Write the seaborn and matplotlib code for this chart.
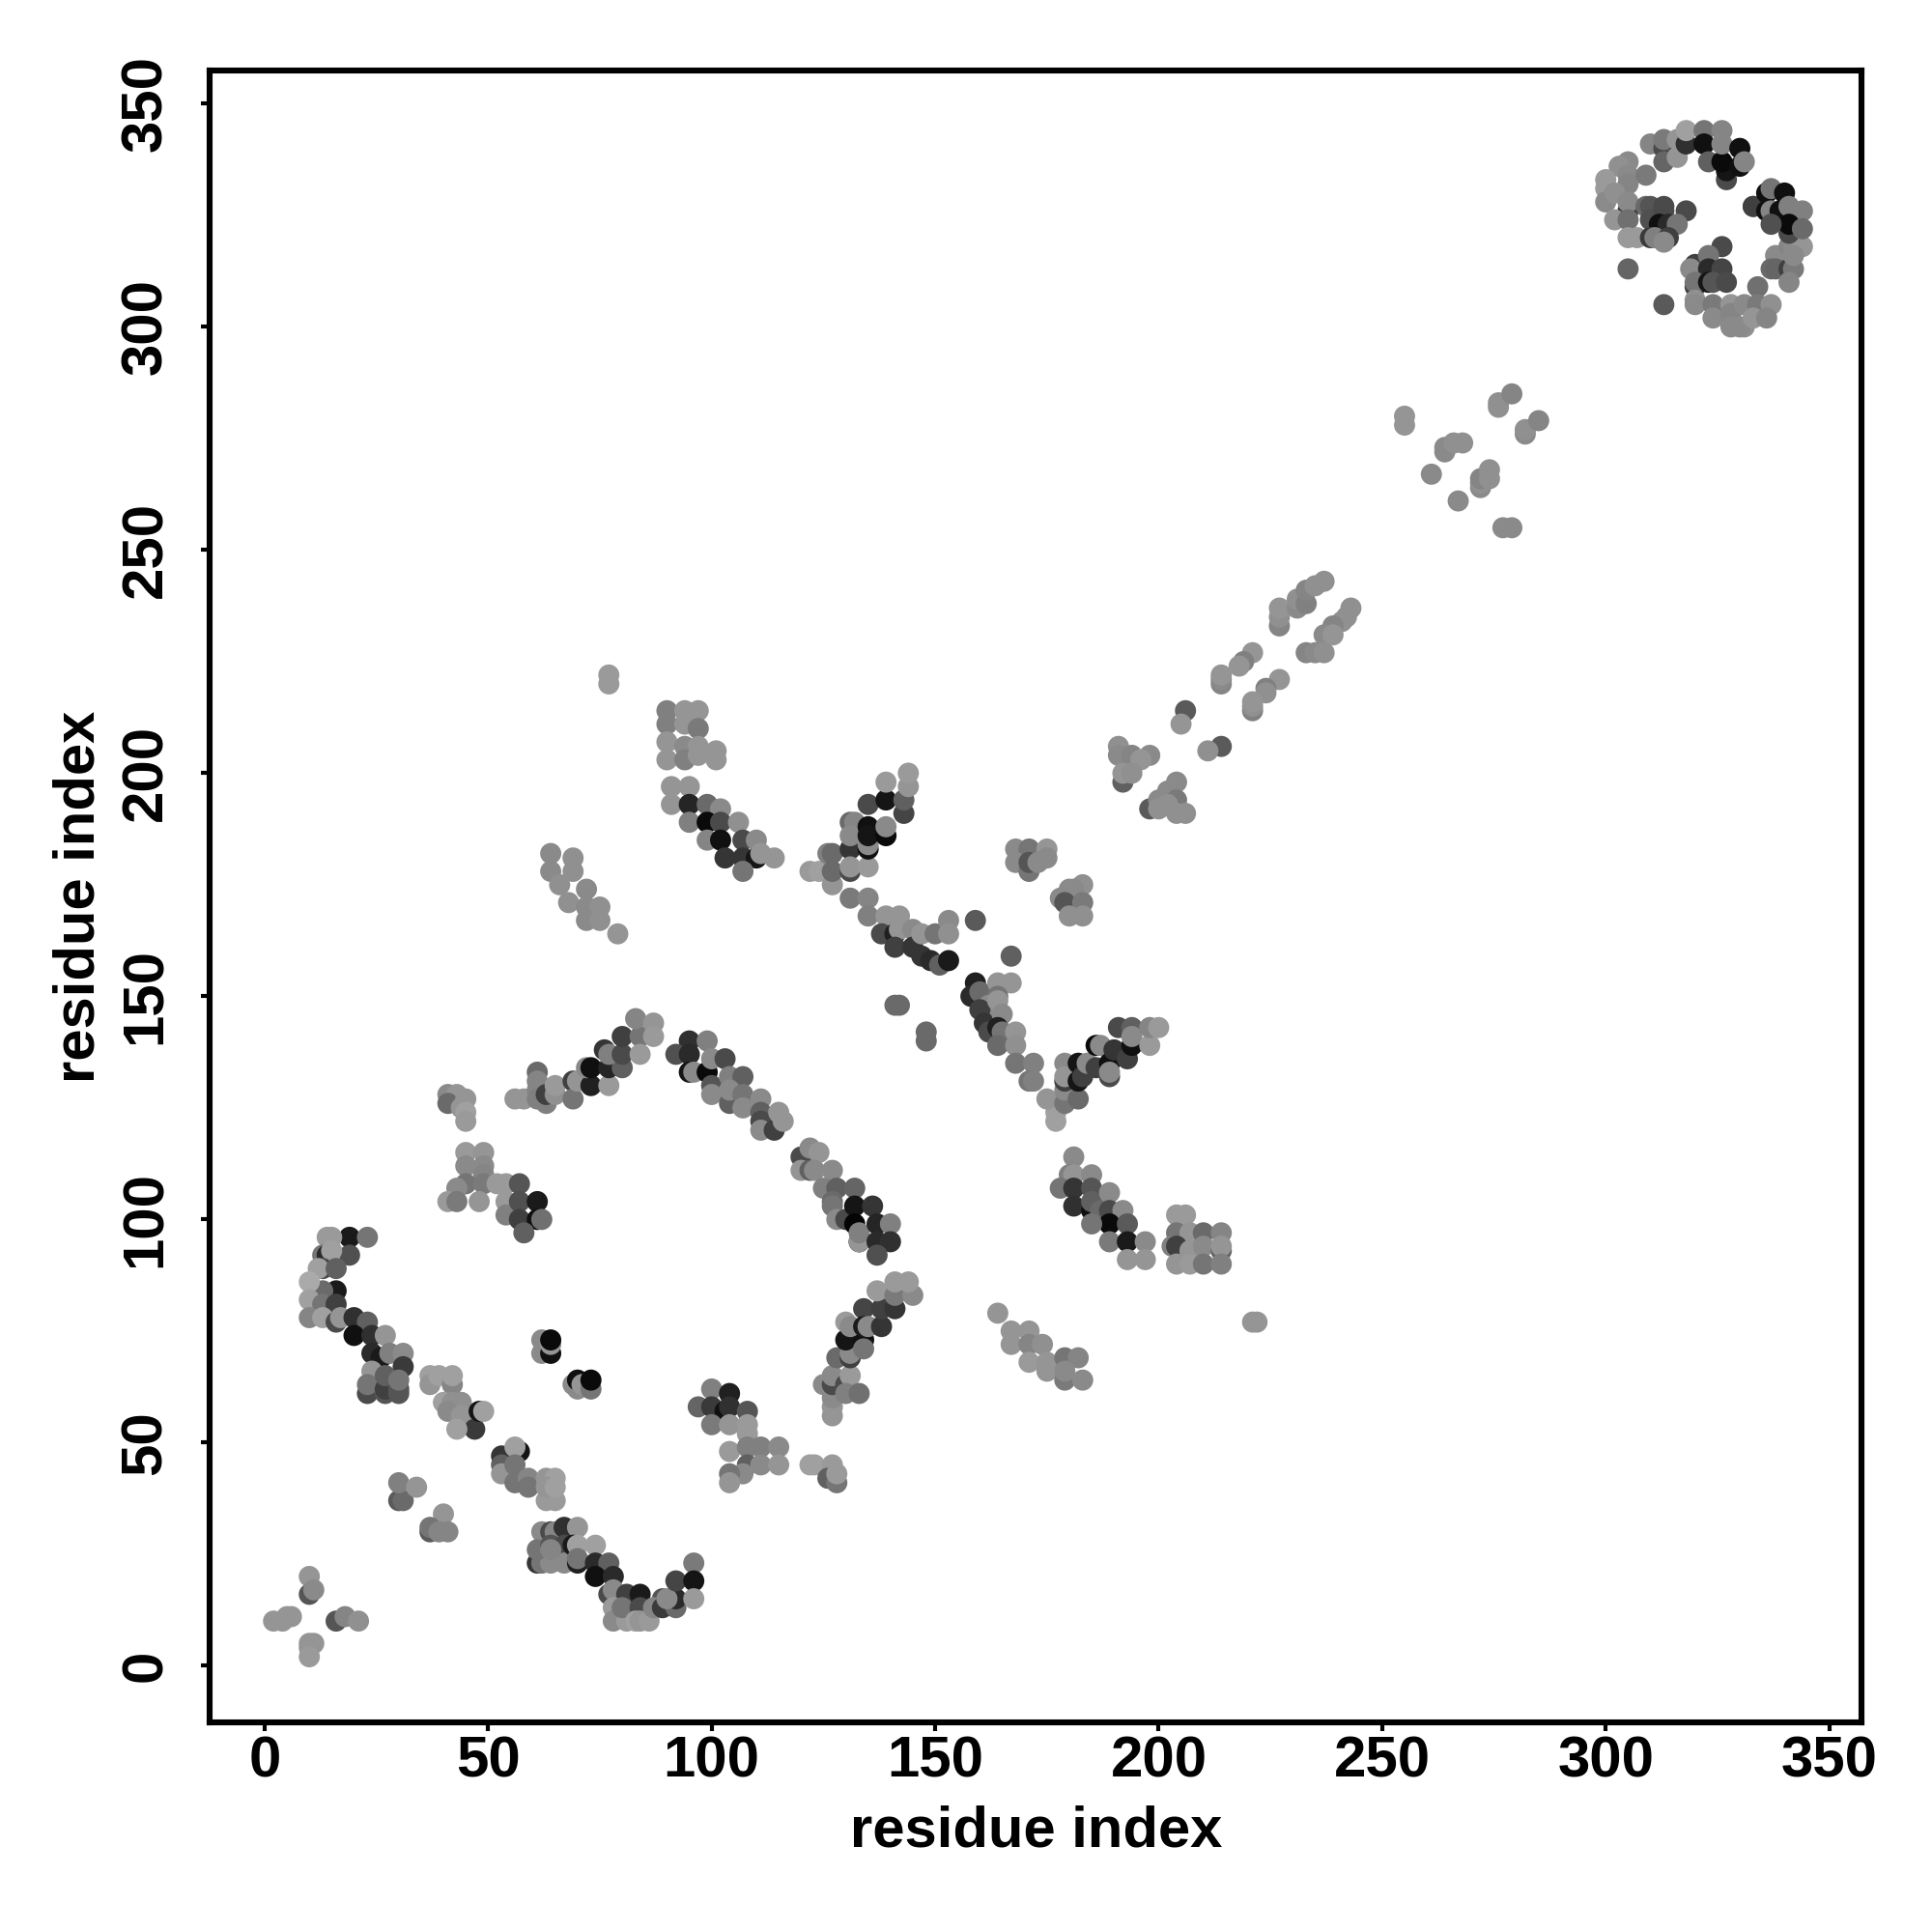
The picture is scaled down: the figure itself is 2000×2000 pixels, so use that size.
import matplotlib
matplotlib.use("Agg")
import matplotlib.pyplot as plt
import pandas as pd
import seaborn as sns

# contacts: (residue x, residue y, grey level 0-255)
cross = [(2,10,140),(4,10,140),(5,11,140),(6,11,140),(10,20,140),(10,16,80),(11,17,130),
         (16,10,80),(18,11,125),(21,10,135),(10,5,140),(11,5,140),(10,4,140),(10,2,145)]
arc_left = [(19,96,25),(23,96,110),(15,96,145),(14,96,145),(19,92,75),(13,92,110),(14,92,40),(15,93,150),
            (13,89,70),(12,89,150),(16,89,90),(16,84,25),(13,84,100),(10,86,160),(10,82,150),(13,81,110),
            (16,81,60),(10,78,125),(13,78,150),(16,77,70),(17,78,140),(20,78,45),(23,77,90),(20,74,15),
            (24,74,45),(27,74,140),(24,70,40),(26,69,25),(28,70,120),(31,70,130),(24,66,140),(31,67,55),
            (23,61,70),(23,63,110),(27,61,80),(27,62,60),(27,65,90),(30,61,80),(30,62,80),(30,64,110)]
strand_b = [(37,65,150),(37,63,140),(39,65,150),(42,63,125),(42,65,150),(40,59,150),(42,59,135),(44,59,135),
            (41,57,130),(44,56,140),(47,53,55),(43,53,150),(48,57,20),(49,57,150)]
strand_c = [(53,47,50),(53,45,90),(57,48,20),(56,49,150),(53,43,140),(56,45,110),(56,41,110),(59,42,125),
            (59,40,110),(63,42,140),(65,42,150),(63,37,145),(65,37,145),(63,40,140),(65,40,150)]
small_pairs = [(30,37,85),(31,37,100),(30,41,120),(34,40,140),(40,34,140),(37,30,85),(37,31,110),(39,30,125),(41,30,125)]
black_pairs = [(62,73,130),(62,70,130),(64,70,15),(64,72,140),(64,73,10),(69,63,130),(70,62,130),(70,64,15),
               (71,63,140),(73,62,110),(73,64,10)]
strand_d = [(61,23,50),(62,23,110),(64,23,130),(62,30,130),(61,26,110),(64,30,70),(65,30,125),(67,31,45),(70,31,140),
            (64,27,80),(67,27,70),(67,23,130),(64,26,125),(69,27,25),(70,27,150),(74,27,150),(70,23,30),(70,24,110),
            (74,23,40),(77,23,90),(74,20,15),(78,20,40),(77,16,70),(78,17,130),(81,16,60),(84,16,25),(89,15,80),
            (78,13,145),(78,10,130),(81,10,145),(80,13,110),(84,13,70),(83,10,150),(84,10,140),(86,10,145),(87,13,125),
            (89,13,55),(92,13,100),(92,15,40),(90,15,130),(92,19,65),(96,23,115),(96,19,20),(96,15,145)]
group_e = [(45,115,145),(49,115,140),(45,112,130),(49,112,130),(49,110,125),(45,108,110),(49,108,115),(43,107,130),
           (52,108,145),(54,108,145),(57,108,80),(41,104,145),(43,104,115),(48,104,140)]
group_f = [(54,104,145),(54,101,120),(57,104,75),(61,104,25),(57,100,60),(61,100,15),(62,100,105),(58,97,90)]
group_g = [(41,128,130),(43,128,140),(41,126,100),(45,127,140),(44,125,140),(45,124,150),(45,122,145)]
group_h = [(56,127,140),(58,127,140),(61,133,100),(61,131,125),(61,129,125),(61,127,120),(63,126,120),(63,128,60),
           (65,128,135),(65,130,145),(69,131,60),(69,127,110),(70,131,140),(73,130,30),(72,134,130),(73,134,15),
           (77,130,145),(77,134,35),(80,134,90),(76,138,50),(77,137,120),(80,137,70),(80,141,60),(84,141,110),
           (84,137,145),(83,145,125),(87,144,140),(87,141,145)]
group_i = [(95,140,45),(99,140,120),(92,137,75),(95,137,40),(95,133,20),(96,133,130),(99,133,10),(100,136,130),
           (103,136,70),(100,130,80),(100,128,130),(104,132,120),(107,132,90),(104,126,90),(104,129,130),(107,128,110),
           (107,125,130),(111,127,130),(111,124,90),(111,122,70),(111,120,130),(114,120,60),(115,124,140),(116,122,140)]
group_j = [(120,114,70),(122,116,130),(124,115,140),(120,111,140),(122,111,90),(123,111,130)]
group_k = [(127,111,130),(125,107,120),(128,107,90),(127,104,100),(127,103,110),(132,107,95),(128,100,130),(130,100,70),
           (132,103,20),(132,99,5),(136,103,50),(133,95,10),(133,95,140),(133,97,120),(137,99,35),(140,99,120),
           (137,95,40),(140,95,45),(137,92,75)]
group_l = [(97,58,95),(100,62,120),(100,58,55),(104,61,30),(103,57,15),(104,58,45),(108,57,80),(100,54,115),(104,54,140),
           (108,54,145),(108,52,145),(104,48,145),(108,49,120),(111,49,120),(115,49,130),(108,45,90),(111,45,130),
           (115,45,140),(107,43,130),(104,43,110),(104,41,140)]
group_m = [(122,45,150),(123,45,150),(127,45,145),(126,42,90),(128,41,110),(128,43,145)]
group_n = [(127,56,140),(127,58,140),(127,60,130),(125,63,130),(127,63,70),(127,65,130),(130,63,70),(131,65,145),(130,61,120),
           (133,61,105),(128,69,100),(131,69,60),(131,70,130),(130,73,20),(134,73,15),(134,71,110),(130,77,145),(131,76,130),
           (134,80,65),(134,76,25),(135,76,130),(138,76,50),(138,80,60),(141,80,50),(137,84,145),(141,83,115),(145,83,130),
           (141,86,145),(144,86,145)]
group_o = [(164,79,140),(167,75,140),(171,75,140),(167,72,140),(171,72,125),(174,72,135),(171,68,145),(175,68,140),(175,66,140),
           (179,69,110),(182,69,125),(179,64,115),(179,66,130),(183,64,130),(221,77,140),(222,77,140)]
group_p = [(181,114,130),(180,110,120),(181,110,140),(185,110,130),(178,107,110),(181,107,50),(185,107,80),(181,103,45),
           (185,102,15),(185,104,90),(187,102,100),(189,106,130),(189,102,70),(192,102,130),(189,99,10),(193,99,85),
           (185,99,110),(189,95,115),(193,95,25),(197,95,130),(193,91,140),(197,91,140)]
group_q = [(204,101,145),(206,101,145),(204,97,110),(207,97,140),(210,97,100),(214,97,125),(203,94,120),(204,94,60),(207,93,140),
           (210,94,130),(214,93,90),(214,94,140),(204,90,140),(207,90,145),(210,90,110),(214,90,120)]
group_r = [(177,122,150),(177,124,150),(175,127,140),(179,126,110),(179,129,130),(179,131,60),(179,135,130),(179,132,140),
           (182,127,100),(182,131,20),(182,135,20),(183,132,60),(184,135,130),(186,134,60),(186,139,10),(187,139,130),
           (189,132,70),(189,135,15),(189,133,130),(190,138,50),(191,143,70),(193,136,60),(194,139,15),(194,143,90),
           (194,141,130),(198,139,145),(198,143,125),(200,143,145)]
group_s = [(159,153,30),(158,150,40),(160,151,100),(164,153,140),(167,153,140),(164,150,110),(162,148,130),(160,147,60),
           (164,149,140),(161,144,50),(162,142,70),(165,146,130),(164,143,30),(165,142,110),(168,142,140),(164,139,100),
           (168,139,135),(168,135,110),(172,135,120),(171,131,110),(172,131,120),(167,159,90)]
group_t = [(131,172,115),(135,172,125),(135,168,120),(139,168,140),(142,168,140),(138,164,70),(141,164,30),(142,165,140),
           (145,165,130),(141,161,60),(145,161,50),(147,164,140),(150,164,110),(153,167,130),(153,164,135),(147,159,50),
           (149,158,40),(151,157,90),(153,158,25),(159,167,85)]
group_u = [(122,178,145),(124,178,150),(127,175,140),(126,182,120),(127,182,100),(127,178,100),(131,189,100),(132,189,125),
           (131,183,50),(131,178,70),(131,179,140),(135,179,145),(135,183,15),(135,184,130),(131,186,130),(135,188,15),(135,186,20),
           (139,186,10),(139,188,130),(135,193,70),(139,194,20),(139,198,145),(143,191,65),(143,194,90),(144,197,140),(144,200,145)]
group_v = [(90,214,120),(94,214,140),(97,214,140),(90,211,120),(94,211,140),(97,210,115),(90,207,140),(94,206,130),(97,205,100),
           (97,206,140),(101,205,140),(90,203,140),(94,203,120),(97,204,140),(101,203,140),(91,197,140),(95,197,140),(91,193,140),
           (95,193,35),(99,193,100),(102,192,130),(95,189,120),(99,189,10),(102,189,70),(106,189,135),(99,185,125),(102,185,15),
           (107,185,70),(110,185,130),(103,181,50),(107,181,50),(110,181,20),(111,182,140),(114,181,140),(107,178,110)]
group_w = [(64,182,130),(69,181,135),(64,178,130),(69,178,135),(66,175,135),(72,174,130),(68,171,135),(72,170,130),(75,170,135),
           (72,167,130),(75,167,135),(79,164,140),(77,222,145),(77,220,145)]
group_x = [(168,183,130),(171,183,110),(175,183,140),(168,180,130),(171,178,110),(171,180,80),(173,180,130),(175,181,130),
           (183,175,135),(180,174,130),(181,174,130),(178,172,130),(179,171,80),(183,171,115),(180,168,135),(183,168,135),
           (141,148,100),(142,148,100),(148,142,100),(148,140,100)]
group_y = [(192,198,90),(191,206,135),(191,204,130),(194,204,125),(198,204,130),(194,202,125),(196,203,140),(192,200,140),
           (194,200,135),(198,192,85),(204,198,130),(202,196,130),(204,194,115),(200,194,130),(200,192,135),(204,191,135),
           (206,191,135),(202,193,135),(206,214,85),(205,211,140),(214,206,85),(211,205,135)]
group_z = [(214,220,125),(214,221,130),(214,222,140),(221,227,140),(219,225,120),(218,224,140),(227,221,140),(224,219,120),(224,218,135),
           (221,214,120),(221,215,135),(221,216,140),(227,233,125),(227,235,135),(227,237,140),(231,237,130),(231,239,135),(233,238,120),
           (233,241,125),(235,242,135),(237,243,135),(243,237,135),(242,235,135),(241,234,135),(239,233,125),(237,231,130),(239,231,140),
           (233,227,125),(235,227,130),(237,227,135)]
group_aa = [(255,280,140),(255,278,140),(264,272,130),(264,273,130),(266,274,135),(268,274,135),(261,267,130),(267,261,130),
            (272,264,130),(272,265,135),(272,266,125),(274,266,135),(274,268,135),(276,282,135),(276,283,135),(279,285,125),
            (282,276,130),(282,277,135),(285,279,125),(277,255,130),(279,255,130)]
ring_top = [(310,341,125),(313,340,70),(313,337,95),(313,342,115),(316,338,140),(316,342,140),(318,341,45),(318,344,150),(322,344,110),
            (322,341,15),(323,337,90),(326,344,125),(327,333,70),(327,335,20),(326,337,10),(326,341,125),(330,340,15),(330,336,15),(331,337,125)]
ring_left = [(305,337,130),(303,336,135),(305,334,130),(305,332,125),(300,333,145),(300,331,145),(300,328,130),(302,330,135),(305,326,50),
             (305,328,130),(309,334,115),(302,324,140),(305,324,105),(305,320,145),(307,320,145),(305,313,95),(313,305,85)]
ring_mid = [(309,327,100),(310,327,80),(313,327,70),(310,324,75),(313,326,70),(318,326,70),(312,323,15),(314,323,40),(316,323,110),
            (310,320,55),(311,320,120),(314,320,60),(313,319,130),(326,318,70),(320,314,60),(323,316,110),(319,313,130),(323,313,40),
            (326,313,65),(320,309,60),(320,310,110),(323,310,20),(324,310,80),(327,310,70),(334,309,105)]
ring_bottom = [(320,306,135),(320,305,130),(324,305,115),(324,302,130),(328,305,140),(328,303,125),(328,300,130),(331,305,130),(334,305,115),
               (331,300,135),(330,300,130),(333,302,140),(337,305,135),(336,302,125)]
ring_right = [(338,316,130),(337,313,100),(338,313,95),(341,313,60),(342,313,115),(341,310,125),(341,318,125),(342,318,130),(344,318,140),
              (342,316,130),(333,327,85),(333,327,60),(336,330,15),(337,331,110),(336,326,15),(337,326,125),(340,330,15),(339,326,15),(341,327,120),
              (344,326,120),(341,321,70),(341,323,10),(337,323,75),(344,322,100)]

axis_ticks = [0, 50, 100, 150, 200, 250, 300, 350]

clusters = [cross, arc_left, strand_b, strand_c, small_pairs, black_pairs, strand_d, group_e, group_f, group_g,
            group_h, group_i, group_j, group_k, group_l, group_m, group_n, group_o, group_p, group_q, group_r,
            group_s, group_t, group_u, group_v, group_w, group_x, group_y, group_z, group_aa,
            ring_top, ring_left, ring_mid, ring_bottom, ring_right]
contacts = pd.DataFrame([p for c in clusters for p in c], columns=["x", "y", "grey"])

sns.set_style("white")
plt.rcParams["font.family"] = ["Liberation Sans", "DejaVu Sans"]
plt.rcParams["font.weight"] = "bold"

fig = plt.figure(figsize=(10, 10), dpi=200)
ax = fig.add_axes([0.1085, 0.1085, 0.8552, 0.8551])

sns.scatterplot(data=contacts, x="x", y="y", hue="grey", palette="gray", hue_norm=(0, 240),
                s=62, linewidth=0, alpha=1, legend=False, ax=ax)

ax.set_xlim(-12.3, 357.3)
ax.set_ylim(-12.7, 357.5)
ax.set_xticks(axis_ticks)
ax.set_yticks(axis_ticks)
ax.tick_params(axis="both", direction="out", length=3.2, width=1.5, color="black",
               labelsize=21.6, labelcolor="black", bottom=True, left=True)
ax.tick_params(axis="x", pad=1.6)
ax.tick_params(axis="y", pad=10.5)
for t in ax.get_yticklabels():
    t.set_rotation(90)
    t.set_va("center")
for side in ax.spines.values():
    side.set_linewidth(2.2)
    side.set_color("black")

ax.set_xlabel("residue index", fontsize=21.5, fontweight="bold", color="black", labelpad=6)
ax.set_ylabel("residue index", fontsize=21.5, fontweight="bold", color="black", labelpad=5.2)

fig.savefig("out.png", dpi=200)
